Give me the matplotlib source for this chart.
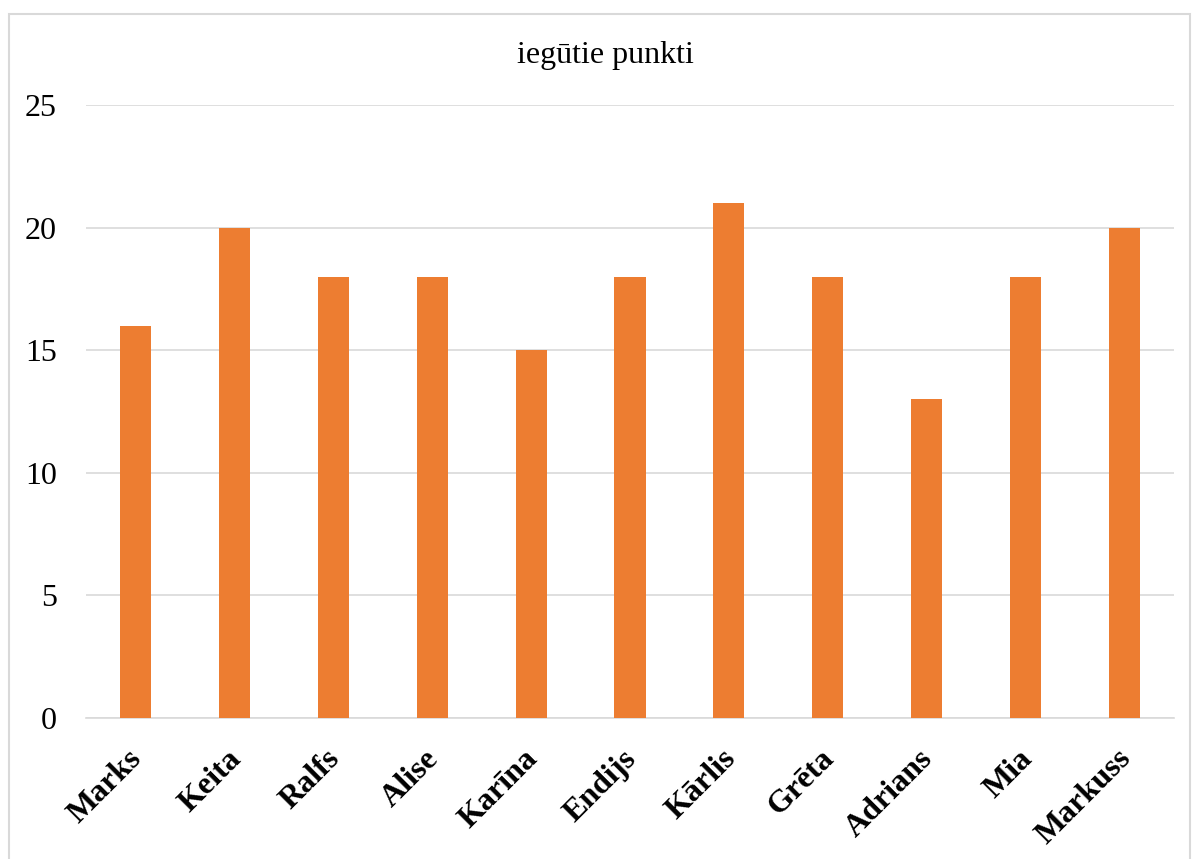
import numpy as np
import matplotlib.pyplot as plt
import matplotlib.transforms as mtransforms
from matplotlib.patches import Rectangle

# data
names = ["Marks", "Keita", "Ralfs", "Alise", "Karīna", "Endijs",
         "Kārlis", "Grēta", "Adrians", "Mia", "Markuss"]
points = [16, 20, 18, 18, 15, 18, 21, 18, 13, 18, 20]
title = "iegūtie punkti"
yticks = [0, 5, 10, 15, 20, 25]

plt.rcParams['font.family'] = ['Liberation Serif', 'DejaVu Serif']

W, H = 1193, 859
fig = plt.figure(figsize=(W / 100, H / 100), dpi=100)
ax = fig.add_axes([86 / W, 1 - 718 / H, (1174 - 86) / W, (718 - 105) / H])

x = np.arange(len(names))
ax.bar(x, points, width=0.315, color="#ED7D31", zorder=3)

ax.set_xlim(-0.5, len(names) - 0.5)
ax.set_ylim(0, 25)
ax.set_yticks(yticks)
ax.set_yticklabels([str(t) for t in yticks], fontsize=23)
ax.yaxis.grid(True, color="#D9D9D9", linewidth=1.2, zorder=0)
ax.tick_params(axis="y", length=0, pad=21)
ax.tick_params(axis="x", length=0, pad=8)

ax.set_xticks(x)
ax.set_xticklabels(names, rotation=45, ha="right", va="top",
                   rotation_mode="anchor", fontsize=23, fontweight="bold")
# nudge the slanted labels down-left
shift = mtransforms.ScaledTranslation(-8 / 100, -15 / 100, fig.dpi_scale_trans)
for lab in ax.get_xticklabels():
    lab.set_transform(lab.get_transform() + shift)

for s in ["top", "right", "left"]:
    ax.spines[s].set_visible(False)
ax.spines["bottom"].set_color("#D9D9D9")
ax.spines["bottom"].set_linewidth(1.2)

fig.text(605 / W, 1 - 55 / H, title, ha="center", va="center", fontsize=23)

# chart frame
fig.patches.append(Rectangle((9 / W, -0.05), (1190 - 9) / W, 1.05 - 14 / H,
                             transform=fig.transFigure, fill=False,
                             edgecolor="#D9D9D9", linewidth=1.5))

fig.savefig("out.png", dpi=100)
